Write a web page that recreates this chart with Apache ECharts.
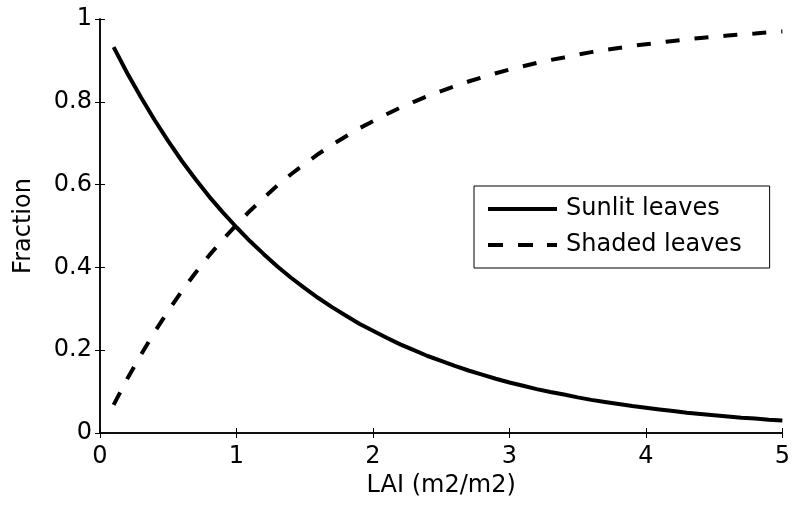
<!DOCTYPE html>
<html lang="en">
<head>
	<meta charset="UTF-8">
	<title>Sunlit / shaded fraction</title>
	<script src="https://cdn.jsdelivr.net/npm/echarts@6/dist/echarts.min.js"></script>
	<style>
		html, body { margin: 0; padding: 0; background: #fff; }
		#chart { width: 793px; height: 507px; }
	</style>
</head>
<body>
	<div id="chart"></div>
	<script>
		// LAI values (x)
		var lai = [0.1, 0.2, 0.3, 0.4, 0.5, 0.6, 0.7, 0.8, 0.9, 1.0,
			1.1, 1.2, 1.3, 1.4, 1.5, 1.6, 1.7, 1.8, 1.9, 2.0,
			2.1, 2.2, 2.3, 2.4, 2.5, 2.6, 2.7, 2.8, 2.9, 3.0,
			3.1, 3.2, 3.3, 3.4, 3.5, 3.6, 3.7, 3.8, 3.9, 4.0,
			4.1, 4.2, 4.3, 4.4, 4.5, 4.6, 4.7, 4.8, 4.9, 5.0];
		// fraction
		var sunlit = [0.932, 0.869, 0.811, 0.756, 0.705, 0.657, 0.613, 0.571, 0.533, 0.497,
			0.463, 0.432, 0.402, 0.375, 0.350, 0.326, 0.304, 0.284, 0.264, 0.247,
			0.230, 0.214, 0.200, 0.186, 0.174, 0.162, 0.151, 0.141, 0.131, 0.122,
			0.114, 0.106, 0.099, 0.093, 0.086, 0.080, 0.075, 0.070, 0.065, 0.061,
			0.057, 0.053, 0.049, 0.046, 0.043, 0.040, 0.037, 0.035, 0.032, 0.030];
		var shaded = [0.068, 0.131, 0.189, 0.244, 0.295, 0.343, 0.387, 0.429, 0.467, 0.503,
			0.537, 0.568, 0.598, 0.625, 0.650, 0.674, 0.696, 0.716, 0.736, 0.753,
			0.770, 0.786, 0.800, 0.814, 0.826, 0.838, 0.849, 0.859, 0.869, 0.878,
			0.886, 0.894, 0.901, 0.907, 0.914, 0.920, 0.925, 0.930, 0.935, 0.939,
			0.943, 0.947, 0.951, 0.954, 0.957, 0.960, 0.963, 0.965, 0.968, 0.970];
		var seriesNames = ['Sunlit leaves', 'Shaded leaves'];

		function pairs(xs, ys) {
			var out = [];
			for (var i = 0; i < xs.length; i++) out.push([xs[i], ys[i]]);
			return out;
		}

		var font = '"DejaVu Sans", "Liberation Sans", Arial, sans-serif';
		var black = '#000';
		var dash = [14, 15];
		// legend swatches: solid bar and three dashes, 69 x 4
		var solidIcon = 'path://M0,0h69v4h-69z';
		var dashIcon = 'path://M0,0h15v4h-15zM30,0h15v4h-15zM59,0h10v4h-10z';

		function axisBase(extra) {
			var a = {
				type: 'value',
				axisLine: { show: true, lineStyle: { color: black, width: 1.5 } },
				axisTick: { show: true, inside: true, length: 5, lineStyle: { color: black, width: 1 } },
				splitLine: { show: false },
				axisLabel: { show: false }
			};
			for (var k in extra) a[k] = extra[k];
			return a;
		}

		var myChart = echarts.init(document.getElementById('chart'));
		myChart.setOption({
			animation: false,
			backgroundColor: '#fff',
			textStyle: { fontFamily: font },
			grid: { left: 100, right: 10, top: 19, bottom: 74, containLabel: false },
			legend: {
				orient: 'vertical',
				left: 474,
				top: 186,
				padding: [9, 28, 9, 14],
				itemWidth: 69,
				itemHeight: 4,
				itemGap: 8,
				borderColor: black,
				borderWidth: 1,
				backgroundColor: '#fff',
				itemStyle: { color: black, borderWidth: 0 },
				textStyle: { fontSize: 24, lineHeight: 28, color: black, fontFamily: font, padding: [0, 0, 0, 4] },
				data: [
					{ name: seriesNames[0], icon: solidIcon },
					{ name: seriesNames[1], icon: dashIcon }
				]
			},
			xAxis: [
				axisBase({
					min: 0, max: 5, interval: 1, position: 'bottom',
					name: 'LAI (m2/m2)', nameLocation: 'middle', nameGap: 36,
					nameTextStyle: { fontSize: 24, color: black, fontFamily: font },
					axisLabel: { show: true, fontSize: 24, color: black, margin: 12, fontFamily: font }
				}),
				axisBase({ min: 0, max: 5, interval: 1, position: 'top' })
			],
			yAxis: [
				axisBase({
					min: 0, max: 1, interval: 0.2, position: 'left',
					name: 'Fraction', nameLocation: 'middle', nameGap: 64,
					nameTextStyle: { fontSize: 24, color: black, fontFamily: font },
					axisLabel: { show: true, fontSize: 24, color: black, margin: 8, fontFamily: font,
						formatter: function (v) { return String(Math.round(v * 10) / 10); } }
				}),
				axisBase({ min: 0, max: 1, interval: 0.2, position: 'right' })
			],
			series: [
				{
					name: seriesNames[0],
					type: 'line',
					data: pairs(lai, sunlit),
					showSymbol: false,
					symbol: 'none',
					color: black,
					lineStyle: { color: black, width: 4, type: 'solid' }
				},
				{
					name: seriesNames[1],
					type: 'line',
					data: pairs(lai, shaded),
					showSymbol: false,
					symbol: 'none',
					color: black,
					lineStyle: { color: black, width: 4, type: dash }
				}
			]
		});
	</script>
</body>
</html>
